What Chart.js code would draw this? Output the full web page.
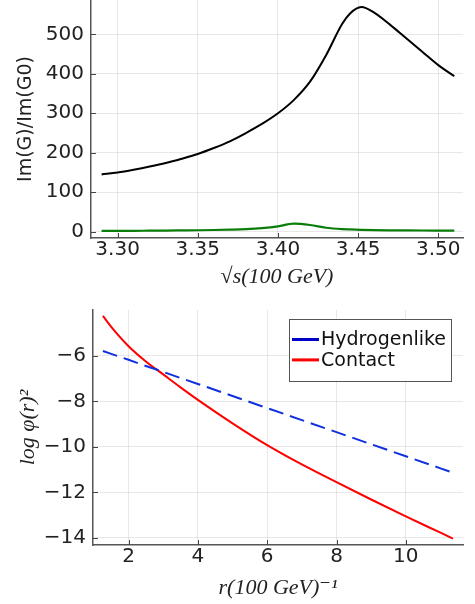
<!DOCTYPE html>
<html><head><meta charset="utf-8">
<script src="https://cdn.jsdelivr.net/npm/chart.js@4.4.1/dist/chart.umd.min.js"></script>
<style>html,body{margin:0;padding:0;background:#fff;}canvas{display:block;}</style>
</head><body>
<canvas id="c1" width="475" height="300"></canvas>
<canvas id="c2" width="475" height="304"></canvas>
<script>
// ---- top panel data ----
const sqrtS   = [3.29,3.30,3.31,3.32,3.33,3.34,3.35,3.36,3.37,3.38,3.39,3.40,3.41,3.42,3.43,3.44,3.445,3.452,3.46,3.47,3.48,3.49,3.50,3.51];
const imBlack = [145,150,157,165,174,185,197,212,229,250,273,300,334,380,447,526,553,569,555,524,490,456,422,394];
const imGreen = [2,2,2.2,2.5,2.8,3.2,3.6,4.3,5.2,6.5,9,13.5,20.5,17,10,6.5,5.7,4.8,4,3.5,3.2,3,2.9,2.8];
const sTicks  = [3.30,3.35,3.40,3.45,3.50];
const imTicks = [0,100,200,300,400,500];
// ---- bottom panel data ----
const rVals       = [1.26,1.5,2,2.5,3,3.5,4,5,6,7,8,9,10,11,11.36];
const logHydrogen = [-5.78,-5.91,-6.17,-6.44,-6.70,-6.97,-7.23,-7.76,-8.29,-8.82,-9.35,-9.88,-10.41,-10.94,-11.13];
const logContact  = [-4.24,-4.72,-5.57,-6.24,-6.81,-7.38,-7.93,-8.96,-9.92,-10.77,-11.55,-12.31,-13.05,-13.77,-14.03];
const rTicks   = [2,4,6,8,10];
const logTicks = [-14,-12,-10,-8,-6];

Chart.defaults.font.family = "'DejaVu Sans'";
Chart.defaults.color = '#222';

const pts = (xs, ys) => xs.map((x, i) => ({x, y: ys[i]}));
const minus = v => String(v).replace('-', '\u2212');

const inTicks = {
  id: 'inTicks',
  afterDatasetsDraw(chart) {
    const ctx = chart.ctx, a = chart.chartArea, xs = chart.scales.x, ys = chart.scales.y;
    ctx.save();
    ctx.strokeStyle = '#444'; ctx.lineWidth = 1;
    xs.ticks.forEach(t => { const p = Math.round(xs.getPixelForValue(t.value)) + 0.5;
      ctx.beginPath(); ctx.moveTo(p, a.bottom); ctx.lineTo(p, a.bottom - 5); ctx.stroke(); });
    ys.ticks.forEach(t => { const p = Math.round(ys.getPixelForValue(t.value)) + 0.5;
      ctx.beginPath(); ctx.moveTo(a.left, p); ctx.lineTo(a.left + 5, p); ctx.stroke(); });
    ctx.restore();
  }
};

const boxLegend = {
  id: 'boxLegend',
  afterDraw(chart) {
    const ctx = chart.ctx, a = chart.chartArea;
    const ds = chart.data.datasets;
    ctx.save();
    ctx.font = "19px 'DejaVu Sans'";
    const tw = Math.max(...ds.map(d => ctx.measureText(d.label).width));
    const w = 3 + 27 + 2 + tw + 5, h = 62;
    const x0 = a.right - 12 - w, y0 = a.top + 8.5;
    ctx.fillStyle = '#fff'; ctx.fillRect(x0, y0, w, h);
    ctx.strokeStyle = '#555'; ctx.lineWidth = 1; ctx.strokeRect(Math.round(x0) + 0.5, Math.round(y0) + 0.5, Math.round(w), h);
    ds.forEach((d, i) => {
      const cy = y0 + 21 + i * 20.4;
      ctx.strokeStyle = d.legendColor || d.borderColor; ctx.lineWidth = 3; ctx.setLineDash([]);
      ctx.beginPath(); ctx.moveTo(x0 + 3, cy); ctx.lineTo(x0 + 30, cy); ctx.stroke();
      ctx.fillStyle = '#111'; ctx.textBaseline = 'middle'; ctx.textAlign = 'left';
      ctx.fillText(d.label, x0 + 32, cy + 1);
    });
    ctx.restore();
  }
};

const gridOpt = {color: 'rgba(0,0,0,0.09)', lineWidth: 1, drawTicks: false};
const borderOpt = {display: true, color: '#555', width: 1.5};
const mathFont = "'Liberation Serif', 'DejaVu Serif'";

new Chart(document.getElementById('c1'), {
  type: 'line',
  data: { datasets: [
    {label: 'black', data: pts(sqrtS, imBlack), borderColor: '#000', borderWidth: 2, pointRadius: 0, cubicInterpolationMode: 'monotone'},
    {label: 'green', data: pts(sqrtS, imGreen), borderColor: '#0a7d0a', borderWidth: 2.2, pointRadius: 0, cubicInterpolationMode: 'monotone'}
  ]},
  options: {
    responsive: false, animation: false, devicePixelRatio: 1,
    layout: {padding: {left: 0, right: 12, top: 0, bottom: 0}},
    plugins: {legend: {display: false}, tooltip: {enabled: false}},
    scales: {
      x: { type: 'linear', min: 3.2834, max: 3.5154,
        afterBuildTicks: s => { s.ticks = sTicks.map(v => ({value: v})); },
        afterFit: s => { s.height = 62; s.paddingLeft = 0; s.paddingRight = 0; },
        grid: gridOpt, border: borderOpt,
        ticks: {font: {size: 20}, padding: 0, maxRotation: 0, autoSkip: false, callback: v => v.toFixed(2)},
        title: {display: true, text: '\u221As(100 GeV)', font: {family: mathFont, size: 22, style: 'italic'}, padding: {top: 0, bottom: 10}}
      },
      y: { type: 'linear', min: -16, max: 587,
        afterBuildTicks: s => { s.ticks = imTicks.map(v => ({value: v})); },
        afterFit: s => { s.width = 91; s.paddingTop = 0; s.paddingBottom = 0; },
        grid: gridOpt, border: borderOpt,
        ticks: {font: {size: 20}, padding: 7, autoSkip: false, callback: v => minus(v)},
        title: {display: true, text: 'Im(G)/Im(G0)', font: {size: 19}, padding: {top: 15, bottom: 0}}
      }
    }
  },
  plugins: [inTicks]
});

new Chart(document.getElementById('c2'), {
  type: 'line',
  data: { datasets: [
    {label: 'Hydrogenlike', data: pts(rVals, logHydrogen), borderColor: '#1030e0', legendColor: '#0000c8', borderWidth: 2, borderDash: [15, 7], pointRadius: 0, tension: 0},
    {label: 'Contact', data: pts(rVals, logContact), borderColor: '#ff0000', borderWidth: 2, pointRadius: 0, cubicInterpolationMode: 'monotone'}
  ]},
  options: {
    responsive: false, animation: false, devicePixelRatio: 1,
    layout: {padding: {left: 0, right: 12, top: 10, bottom: 0}},
    plugins: {legend: {display: false}, tooltip: {enabled: false}},
    scales: {
      x: { type: 'linear', min: 0.974, max: 11.65,
        afterBuildTicks: s => { s.ticks = rTicks.map(v => ({value: v})); },
        afterFit: s => { s.height = 59; s.paddingLeft = 0; s.paddingRight = 0; },
        grid: gridOpt, border: borderOpt,
        ticks: {font: {size: 20}, padding: 0, maxRotation: 0, autoSkip: false, callback: v => String(v)},
        title: {display: true, text: 'r(100 GeV)\u207B\u00B9', font: {family: mathFont, size: 22, style: 'italic'}, padding: {top: 0, bottom: 3}}
      },
      y: { type: 'linear', min: -14.31, max: -3.98,
        afterBuildTicks: s => { s.ticks = logTicks.map(v => ({value: v})); },
        afterFit: s => { s.width = 93; s.paddingTop = 0; s.paddingBottom = 0; },
        grid: gridOpt, border: borderOpt,
        ticks: {font: {size: 20}, padding: 7, autoSkip: false, callback: v => minus(v)},
        title: {display: true, text: 'log \u03C6(r)\u00B2', font: {family: mathFont, size: 22, style: 'italic'}, padding: {top: 15, bottom: 0}}
      }
    }
  },
  plugins: [inTicks, boxLegend]
});
</script>
</body></html>
